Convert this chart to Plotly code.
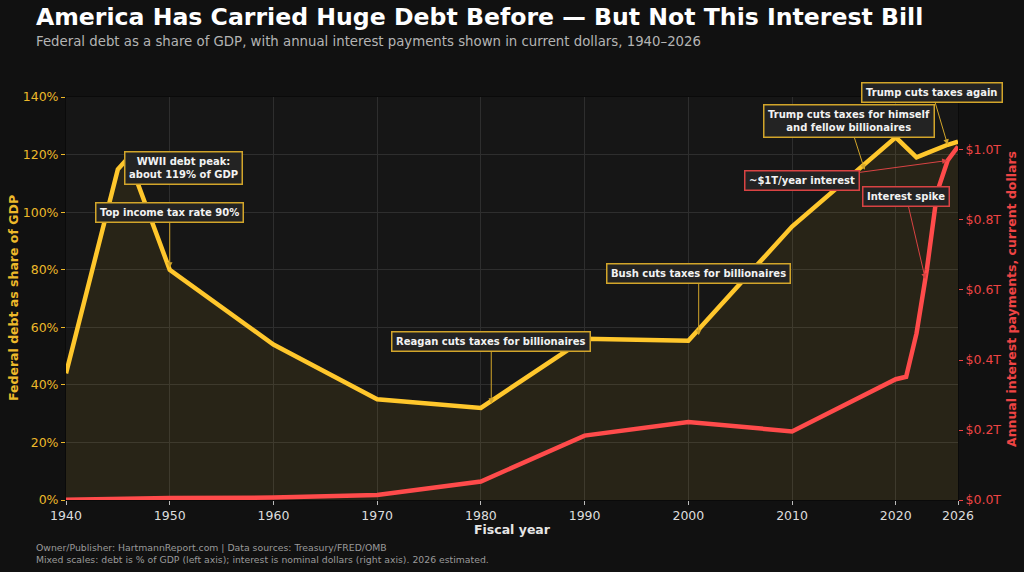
import numpy as np
import plotly.graph_objects as go

# ---------------- data ----------------
years = [1940, 1945, 1946, 1950, 1960, 1970, 1980, 1990, 2000, 2010,
         2020, 2021, 2022, 2023, 2024, 2025, 2026]
debt_pct_gdp = [44, 114.9, 118.9, 80, 54, 35, 32, 56, 55.3, 95,
                126, 122.5, 119, 120.5, 122, 123.4, 124.5]
interest_tn = [0.001, 0.0036, 0.0042, 0.0056, 0.0069, 0.0143, 0.0527, 0.184, 0.223, 0.196,
               0.345, 0.352, 0.476, 0.659, 0.881, 0.970, 1.01]

x_ticks = [1940, 1950, 1960, 1970, 1980, 1990, 2000, 2010, 2020, 2026]
left_ticks = [0, 20, 40, 60, 80, 100, 120, 140]
right_ticks = [0, 0.2, 0.4, 0.6, 0.8, 1.0]

title_text = "America Has Carried Huge Debt Before — But Not This Interest Bill"
subtitle_text = ("Federal debt as a share of GDP, with annual interest payments shown in "
                 "current dollars, 1940–2026")
footer_1 = "Owner/Publisher: HartmannReport.com | Data sources: Treasury/FRED/OMB"
footer_2 = ("Mixed scales: debt is % of GDP (left axis); interest is nominal dollars "
            "(right axis). 2026 estimated.")

# ---------------- style ----------------
FONT = "DejaVu Sans"
PAPER = "#111111"
PLOT_BG = "#161616"
YELLOW = "#FFC72C"
YELLOW_TXT = "#EDB92A"
YELLOW_BOX = "#D2A52A"
RED = "#FF4B4B"
RED_TXT = "#EE4444"
RED_BOX = "#D94343"
GRID = "#2E2E2E"
W, H = 1024, 572
L, R, T, B = 66, 66, 97, 72
PW, PH = W - L - R, H - T - B


def px_x(p):  # pixel -> paper x
    return (p - L) / PW


def px_y(p):  # pixel -> paper y
    return (H - B - p) / PH


def debt_at(yr):
    return float(np.interp(yr, years, debt_pct_gdp))


def int_at(yr):
    return float(np.interp(yr, years, interest_tn))


fig = go.Figure()
fig.add_trace(go.Scatter(
    x=years, y=debt_pct_gdp, mode="lines", name="Debt % GDP",
    line=dict(color=YELLOW, width=4.5), fill="tozeroy",
    fillcolor="rgba(255,199,44,0.08)", yaxis="y", hoverinfo="skip"))
fig.add_trace(go.Scatter(
    x=years, y=interest_tn, mode="lines", name="Interest",
    line=dict(color=RED, width=4.5), yaxis="y2", hoverinfo="skip"))

ann = []


def box_ann(text, x, y, ax, ay, kind="y", show=True):
    col = YELLOW_BOX if kind == "y" else RED_BOX
    yref = "y" if kind == "y" else "y2"
    d = dict(text=text, x=x, y=y, xref="x", yref=yref,
             font=dict(family=FONT, size=10, color="#F2F2F2"),
             bgcolor="#232323", bordercolor=col, borderwidth=1.5, borderpad=3.5,
             align="center")
    if show:
        d.update(showarrow=True, ax=ax, ay=ay, axref="x", ayref=yref,
                 arrowhead=2, arrowsize=1.1, arrowwidth=1, arrowcolor=col, standoff=0)
    else:
        d.update(x=ax, y=ay, showarrow=False)
    ann.append(d)


box_ann("<b>WWII debt peak:<br>about 119% of GDP</b>", 1946, debt_at(1946), 1951.3, 115.5, show=False)
box_ann("<b>Top income tax rate 90%</b>", 1950, debt_at(1950) + 0.7, 1950, 100)
box_ann("<b>Reagan cuts taxes for billionaires</b>", 1981, debt_at(1981) - 1, 1981, 55)
box_ann("<b>Bush cuts taxes for billionaires</b>", 2001, debt_at(2001) - 2, 2001, 78.7)
box_ann("<b>Trump cuts taxes for himself<br>and fellow billionaires</b>", 2017, debt_at(2017) - 2,
        2015.5, 131.6)
box_ann("<b>Trump cuts taxes again</b>", 2025, debt_at(2025), 2023.5, 141.7)
box_ann("<b>~$1T/year interest</b>", 2025, int_at(2025), 2011.0, 0.914, kind="r")
box_ann("<b>Interest spike</b>", 2022.85, int_at(2022.85), 2021.0, 0.867, kind="r")

# title / subtitle / footer / axis titles as text annotations
ann.append(dict(text="<b>" + title_text + "</b>", xref="paper", yref="paper",
                x=px_x(34), y=px_y(17), xanchor="left", yanchor="middle", showarrow=False,
                font=dict(family=FONT, size=23.6, color="#FFFFFF")))
ann.append(dict(text=subtitle_text, xref="paper", yref="paper",
                x=px_x(34), y=px_y(42), xanchor="left", yanchor="middle", showarrow=False,
                font=dict(family=FONT, size=13.3, color="#B4B4B4")))
ann.append(dict(text=footer_1 + "<br>" + footer_2, xref="paper", yref="paper",
                x=px_x(34), y=px_y(553), xanchor="left", yanchor="middle", showarrow=False,
                align="left", font=dict(family=FONT, size=9.3, color="#9A9A9A")))
ann.append(dict(text="<b>Fiscal year</b>", xref="paper", yref="paper",
                x=px_x(512), y=px_y(529), xanchor="center", yanchor="middle", showarrow=False,
                font=dict(family=FONT, size=12.5, color="#E6E6E6")))
ann.append(dict(text="<b>Federal debt as share of GDP</b>", xref="paper", yref="paper",
                x=px_x(13), y=px_y(298), xanchor="center", yanchor="middle", showarrow=False,
                textangle=-90, font=dict(family=FONT, size=12.5, color=YELLOW_TXT)))
ann.append(dict(text="<b>Annual interest payments, current dollars</b>", xref="paper", yref="paper",
                x=px_x(1011), y=px_y(299), xanchor="center", yanchor="middle", showarrow=False,
                textangle=-90, font=dict(family=FONT, size=12.5, color=RED_TXT)))

fig.update_layout(
    width=W, height=H,
    margin=dict(l=L, r=R, t=T, b=B, pad=0),
    paper_bgcolor=PAPER, plot_bgcolor=PLOT_BG,
    showlegend=False,
    font=dict(family=FONT, color="#DDDDDD"),
    annotations=ann,
    xaxis=dict(range=[1940, 2026], tickmode="array", tickvals=x_ticks,
               ticktext=[str(v) for v in x_ticks],
               showgrid=True, gridcolor=GRID, gridwidth=1, zeroline=False,
               ticks="outside", ticklen=4, tickcolor="#BBBBBB", tickwidth=1,
               tickfont=dict(family=FONT, size=12.5, color="#DDDDDD"),
               showline=True, linecolor="#0A0A0A", linewidth=1, mirror=True),
    yaxis=dict(range=[0, 140], tickmode="array", tickvals=left_ticks,
               ticktext=[f"{v}%" for v in left_ticks],
               showgrid=True, gridcolor=GRID, gridwidth=1, zeroline=False,
               ticks="outside", ticklen=4, tickcolor=YELLOW_TXT, tickwidth=1,
               tickfont=dict(family=FONT, size=12.5, color=YELLOW_TXT),
               showline=True, linecolor="#0A0A0A", linewidth=1, mirror=True),
    yaxis2=dict(range=[0, 1.1514], tickmode="array", tickvals=right_ticks,
                ticktext=[f"${v:.1f}T" for v in right_ticks],
                overlaying="y", side="right",
                showgrid=False, zeroline=False,
                ticks="outside", ticklen=4, tickcolor=RED_TXT, tickwidth=1,
                tickfont=dict(family=FONT, size=12.5, color=RED_TXT)),
)

fig.write_html("out.html")
